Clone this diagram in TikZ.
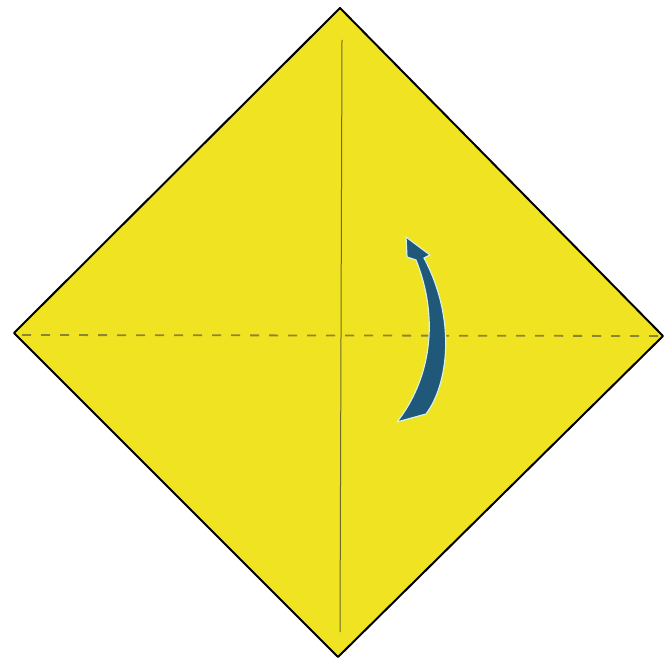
\documentclass[tikz,border=0pt]{standalone}
\usepackage{tikz}
\definecolor{paper}{HTML}{F0E321}
\definecolor{crease}{HTML}{6E6A2A}
\definecolor{dashcol}{HTML}{8C8430}
\definecolor{arrowblue}{HTML}{1F5878}
\definecolor{rim}{HTML}{D8F2E6}

\begin{document}
\begin{tikzpicture}[x=1pt,y=-1pt, sheet/.style={draw=black,line width=2pt,line join=round,fill=paper}, fold/.style={draw=crease,line width=1pt}, valley/.style={draw=dashcol,line width=1.8pt,dash pattern=on 9pt off 10pt}, turn/.style={fill=arrowblue,draw=rim,line width=1.2pt,line join=round}]
\useasboundingbox (0,0) rectangle (666,660);
\coordinate (top) at (340,8);\coordinate (left) at (14,333);
\coordinate (right) at (663,336);\coordinate (bottom) at (338,657);
\draw[sheet] (top)--(right)--(bottom)--(left)--cycle;
\coordinate (ctop) at (342,40);\coordinate (cbot) at (340,632);
\draw[fold] (ctop)--(cbot);
\coordinate (dleft) at (22,335);\coordinate (dright) at (658,336);
\draw[valley] (dleft)--(dright);
% turn-over arrow
\draw[turn] (397,422) .. controls (430,380) and (440,320) .. (416,260) -- (407,257) -- (406,237) -- (430,255) -- (424,258) .. controls (457,320) and (448,385) .. (426,414) -- cycle;
\end{tikzpicture}
\end{document}
